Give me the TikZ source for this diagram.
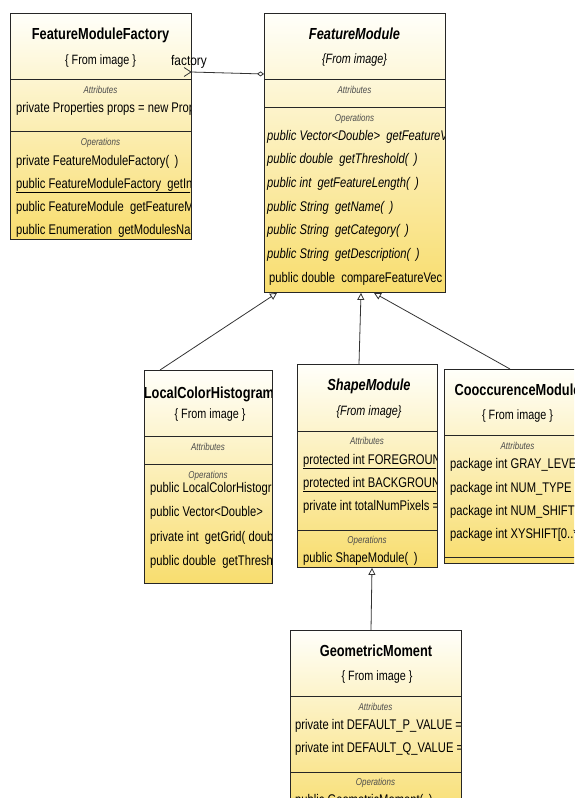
\documentclass[tikz,border=0pt]{standalone}
\usepackage{fontspec}
\usetikzlibrary{arrows.meta}
\newfontfamily\cond[FakeStretch=0.80]{Liberation Sans}
\newfontfamily\lblfont[FakeStretch=0.85]{Liberation Sans}
\definecolor{clsTop}{RGB}{255,255,250}
\definecolor{clsBot}{RGB}{248,221,110}
\tikzset{
  classbox/.style={draw=black!85, line width=0.9pt, top color=clsTop, bottom color=clsBot, inner sep=0pt, anchor=north west, rectangle},
  ttl/.style={font=\cond\bfseries\fontsize{16}{18}\selectfont, inner sep=0pt, anchor=base},
  ttlit/.style={font=\cond\bfseries\itshape\fontsize{16}{18}\selectfont, inner sep=0pt, anchor=base},
  sub/.style={font=\cond\fontsize{13.5}{15}\selectfont, inner sep=0pt, anchor=base},
  subit/.style={font=\cond\itshape\fontsize{13.5}{15}\selectfont, inner sep=0pt, anchor=base},
  sect/.style={font=\cond\itshape\fontsize{10}{12}\selectfont, text=black!70, inner sep=0pt, anchor=base},
  row/.style={font=\cond\fontsize{14}{16}\selectfont, inner sep=0pt, anchor=base west},
  rowit/.style={font=\cond\itshape\fontsize{14}{16}\selectfont, inner sep=0pt, anchor=base west},
  lbltext/.style={font=\lblfont\fontsize{14}{16}\selectfont, inner sep=0pt, anchor=base},
  sep/.style={draw=black!85, line width=0.9pt},
  gen/.style={draw=black!80, line width=0.8pt, -{Triangle[open, length=7pt, width=7pt]}},
  assoc/.style={draw=black!80, line width=0.8pt, -{Diamond[open, length=7pt, width=5pt]}}
}
\begin{document}
\begin{tikzpicture}[x=1pt,y=-1pt]
\path[use as bounding box] (0,0) rectangle (574,798);
\clip (0,0) rectangle (574,798);

% ---------- FeatureModuleFactory ----------
\node[classbox, minimum width=181pt, minimum height=226pt] (fmf) at (10,13) {};
\begin{scope}
\clip (11,14) rectangle (190,238);
\node[ttl] (fmft) at (100.5,39) {FeatureModuleFactory};
\node[sub] (fmfs) at (100.5,64) {\{ From image \}};
\node[sect] (fmfa) at (100.5,93.5) {Attributes};
\node[row] (fmf1) at (16,112) {private Properties props = new Prop};
\node[sect] (fmfo) at (100.5,145.5) {Operations};
\node[row] (fmf2) at (16,165) {private FeatureModuleFactory( \,)};
\node[row] (fmf3) at (16,188) {\underline{public FeatureModuleFactory \ getIn}};
\node[row] (fmf4) at (16,211) {public FeatureModule \ getFeatureM};
\node[row] (fmf5) at (16,234) {public Enumeration \ getModulesNa};
\end{scope}
\draw[sep] (10,79) -- (191,79);
\draw[sep] (10,131) -- (191,131);

% ---------- FeatureModule ----------
\node[classbox, minimum width=181pt, minimum height=279pt] (fm) at (264,13) {};
\begin{scope}
\clip (265,14) rectangle (444,291);
\node[ttlit] (fmt) at (354.5,39) {FeatureModule};
\node[subit] (fms) at (354.5,63) {\{From image\}};
\node[sect] (fma) at (354.5,93.5) {Attributes};
\node[sect] (fmo) at (354.5,121.5) {Operations};
\node[rowit] (fm1) at (267,140) {public Vector<Double> \ getFeatureV};
\node[rowit] (fm2) at (267,163) {public double \ getThreshold( \,)};
\node[rowit] (fm3) at (267,187) {public int \ getFeatureLength( \,)};
\node[rowit] (fm4) at (267,211) {public String \ getName( \,)};
\node[rowit] (fm5) at (267,234) {public String \ getCategory( \,)};
\node[rowit] (fm6) at (267,258) {public String \ getDescription( \,)};
\node[row] (fm7) at (269,282) {public double \ compareFeatureVec};
\end{scope}
\draw[sep] (264,79) -- (445,79);
\draw[sep] (264,107) -- (445,107);

% ---------- LocalColorHistogram ----------
\node[classbox, minimum width=128pt, minimum height=213pt] (lch) at (144,370) {};
\begin{scope}
\clip (145,371) rectangle (271,582);
\node[ttl] (lcht) at (209,398) {LocalColorHistogram};
\node[sub] (lchs) at (210,418) {\{ From image \}};
\node[sect] (lcha) at (208,450.5) {Attributes};
\node[sect] (lcho) at (208,478.5) {Operations};
\node[row] (lch1) at (150,492) {public LocalColorHistogr};
\node[row] (lch2) at (150,516) {public Vector<Double>};
\node[row] (lch3) at (150,541) {private int \ getGrid( doub};
\node[row] (lch4) at (150,565) {public double \ getThresh};
\end{scope}
\draw[sep] (144,436) -- (272,436);
\draw[sep] (144,464) -- (272,464);

% ---------- ShapeModule ----------
\node[classbox, minimum width=140pt, minimum height=203pt] (sm) at (297,364) {};
\begin{scope}
\clip (298,365) rectangle (436,566);
\node[ttlit] (smt) at (369,390) {ShapeModule};
\node[subit] (sms) at (369,415) {\{From image\}};
\node[sect] (sma) at (367,444.5) {Attributes};
\node[row] (sm1) at (303,464) {\underline{protected int FOREGROUN}};
\node[row] (sm2) at (303,487) {\underline{protected int BACKGROUN}};
\node[row] (sm3) at (303,510) {private int totalNumPixels =};
\node[sect] (smo) at (367,543.5) {Operations};
\node[row] (sm4) at (303,562) {public ShapeModule( \,)};
\end{scope}
\draw[sep] (297,431) -- (437,431);
\draw[sep] (297,530) -- (437,530);

% ---------- CooccurenceModule ----------
\node[classbox, minimum width=147pt, minimum height=194pt] (cm) at (444,369) {};
\begin{scope}
\clip (445,370) rectangle (590,562);
\node[ttl] (cmt) at (517.5,395) {CooccurenceModule};
\node[sub] (cms) at (517.5,419) {\{ From image \}};
\node[sect] (cma) at (517.5,449.5) {Attributes};
\node[row] (cm1) at (450,468) {package int GRAY\_LEVE};
\node[row] (cm2) at (450,492) {package int NUM\_TYPE =};
\node[row] (cm3) at (450,515) {package int NUM\_SHIFT =};
\node[row] (cm4) at (450,538) {package int XYSHIFT[0..*};
\end{scope}
\draw[sep] (444,435) -- (591,435);
\draw[sep] (444,557) -- (591,557);

% ---------- GeometricMoment ----------
\node[classbox, minimum width=171pt, minimum height=190pt] (gm) at (290,630) {};
\begin{scope}
\clip (291,631) rectangle (460,819);
\node[ttl] (gmt) at (376,656) {GeometricMoment};
\node[sub] (gms) at (377,680) {\{ From image \}};
\node[sect] (gma) at (375.5,710.5) {Attributes};
\node[row] (gm1) at (295,729) {private int DEFAULT\_P\_VALUE =};
\node[row] (gm2) at (295,752) {private int DEFAULT\_Q\_VALUE =};
\node[sect] (gmo) at (375.5,785.5) {Operations};
\node[row] (gm3) at (295,804) {public GeometricMoment( \,)};
\end{scope}
\draw[sep] (290,696) -- (461,696);
\draw[sep] (290,772) -- (461,772);

% ---------- connectors ----------
\draw[gen] ([xshift=16pt]lch.north west) -- ([xshift=13pt]fm.south west);
\draw[gen] ([xshift=62pt]sm.north west) -- ([xshift=97pt]fm.south west);
\draw[gen] ([xshift=66pt]cm.north west) -- ([xshift=110pt]fm.south west);
\draw[gen] ([xshift=81pt]gm.north west) -- ([xshift=75pt]sm.south west);

\coordinate (fa) at (191,72);
\coordinate (fb) at (264,74);
\draw[assoc] (fa) -- (fb);
\draw[draw=black!80, line width=0.8pt] (184,67.5) -- (fa) -- (184,76.5);
\node[lbltext] (lbl) at (189,65) {factory};
\end{tikzpicture}
\end{document}
